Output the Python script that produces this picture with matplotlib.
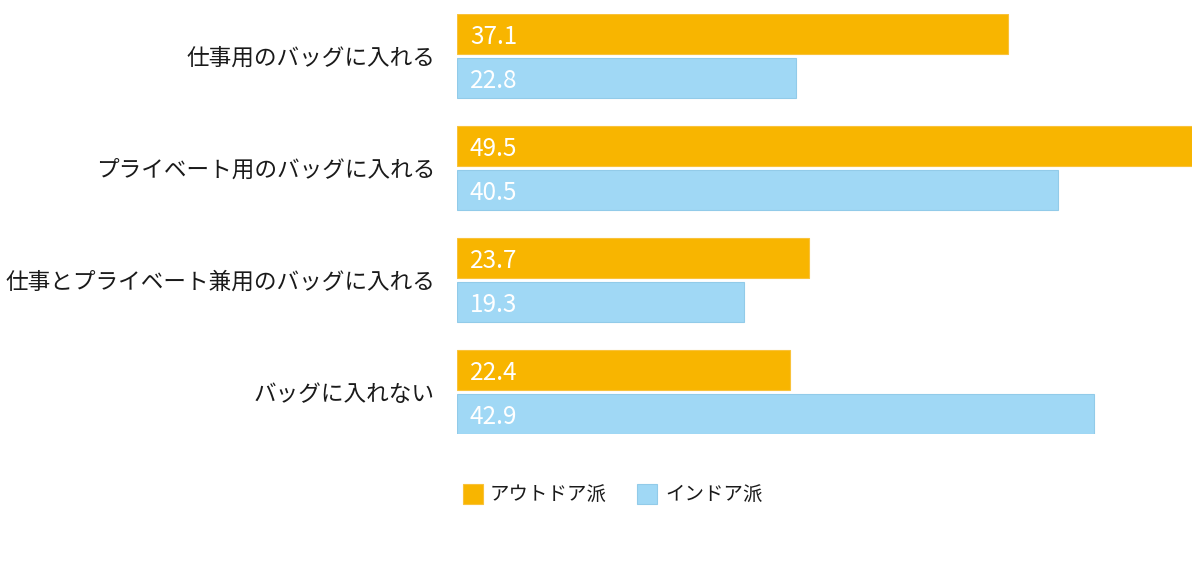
import matplotlib
matplotlib.use("Agg")
import matplotlib.pyplot as plt
from matplotlib.patches import Rectangle
import numpy as np

plt.rcParams['font.family'] = ['Noto Sans CJK JP', 'DejaVu Sans']

categories = ["仕事用のバッグに入れる", "プライベート用のバッグに入れる",
              "仕事とプライベート兼用のバッグに入れる", "バッグに入れない"]
series_names = ["アウトドア派", "インドア派"]
outdoor = [37.1, 49.5, 23.7, 22.4]
indoor = [22.8, 40.5, 19.3, 42.9]

colors = ["#F8B500", "#A0D8F5"]
edges = ["#F9C23A", "#92CBE9"]

W, H = 1200, 585
fig = plt.figure(figsize=(W / 100, H / 100), dpi=100)
ax_l, ax_r, ax_t, ax_b = 457, 1192, 14, 434
ax = fig.add_axes([ax_l / W, (H - ax_b) / H, (ax_r - ax_l) / W, (ax_b - ax_t) / H])

y = np.arange(len(categories))
unit = 112.0
bh = 40 / unit
off = 22 / unit
for vals, dy, c, e in [(outdoor, -off, colors[0], edges[0]), (indoor, off, colors[1], edges[1])]:
    bars = ax.barh(y + dy, vals, height=bh, color=c, edgecolor=e, linewidth=0.8)
    for b, v in zip(bars, vals):
        ax.annotate(f"{v:.1f}", xy=(0, b.get_y() + b.get_height() / 2),
                    xytext=(13, -3), textcoords="offset pixels",
                    ha="left", va="center", color="white", fontsize=17.5)

ax.set_xlim(0, 49.5)
ax.set_ylim(3 + 42 / unit, -42 / unit)
ax.set_yticks(y)
ax.set_yticklabels(categories, fontsize=16.3, color="#1a1a1a")
ax.tick_params(axis="y", length=0, pad=22 * 0.72)
ax.set_xticks([])
for s in ax.spines.values():
    s.set_visible(False)

# legend
leg_items = [(463, 490), (637, 665)]
for (sx, tx), name, c, e in zip(leg_items, series_names, colors, edges):
    fig.patches.append(Rectangle((sx / W, (H - 504) / H), 20 / W, 20 / H,
                                 transform=fig.transFigure, facecolor=c,
                                 edgecolor=e, linewidth=0.8))
    fig.text(tx / W, (H - 495.5) / H, name, ha="left", va="center",
             fontsize=14, color="#1a1a1a")

fig.savefig("out.png", dpi=100)
